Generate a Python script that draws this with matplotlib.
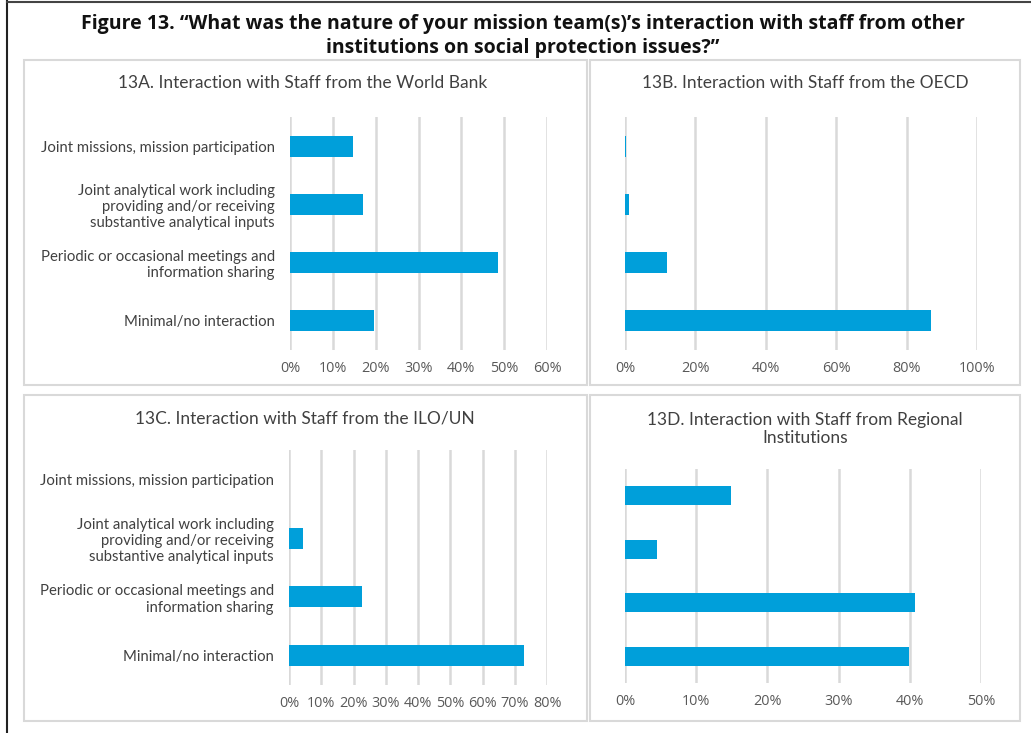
import matplotlib.pyplot as plt
from matplotlib.patches import Rectangle
from matplotlib.lines import Line2D
from matplotlib.ticker import PercentFormatter

plt.rcParams['font.family'] = ['Lato', 'DejaVu Sans']

# Data (shares of respondents)
categories = [
    "Joint missions, mission participation",
    "Joint analytical work including\nproviding and/or receiving\nsubstantive analytical inputs",
    "Periodic or occasional meetings and\ninformation sharing",
    "Minimal/no interaction",
]
world_bank = [0.148, 0.171, 0.486, 0.197]
oecd = [0.004, 0.010, 0.120, 0.870]
ilo_un = [0.0, 0.042, 0.227, 0.730]
regional = [0.149, 0.045, 0.408, 0.399]

titles = [
    "13A. Interaction with Staff from the World Bank",
    "13B. Interaction with Staff from the OECD",
    "13C. Interaction with Staff from the ILO/UN",
    "13D. Interaction with Staff from Regional\nInstitutions",
]

BAR = "#009FDA"
GRID = "#D9D9D9"
TXT = "#404040"

W, H = 1031, 733
fig = plt.figure(figsize=(W / 100, H / 100), dpi=100)


def px_axes(x0, y0, x1, y1):
    return fig.add_axes([x0 / W, 1 - y1 / H, (x1 - x0) / W, (y1 - y0) / H])


def frame(x0, y0, x1, y1, color=GRID, lw=1.5):
    fig.patches.append(Rectangle((x0 / W, 1 - y1 / H), (x1 - x0) / W, (y1 - y0) / H,
                                 transform=fig.transFigure, fill=False,
                                 edgecolor=color, lw=lw))


# outer frame (left and top only)
fig.lines.append(Line2D([7 / W, 7 / W], [0, 1 - 1 / H], transform=fig.transFigure, color="#222222", lw=1.5))
fig.lines.append(Line2D([7 / W, 1], [1 - 2 / H, 1 - 2 / H], transform=fig.transFigure, color="#444444", lw=1.5))

# panel boxes
frame(24, 60, 587, 385)
frame(590, 60, 1020, 385)
frame(24, 395, 587, 721)
frame(590, 395, 1020, 721)

fig.text(523 / W, 1 - 36 / H,
         "Figure 13. \u201cWhat was the nature of your mission team(s)\u2019s interaction with staff from other\ninstitutions on social protection issues?\u201d",
         ha="center", va="center", fontsize=14, fontweight="bold", color="#111111",
         linespacing=1.2, family=["Open Sans", "DejaVu Sans"])

panels = [
    (world_bank, (290, 117, 547, 350), 0.6, 0.1, True, (303, 83)),
    (oecd, (625, 117, 977, 350), 1.0, 0.2, False, (805, 83)),
    (ilo_un, (289, 450, 547, 685), 0.8, 0.1, True, (305, 418)),
    (regional, (625, 469, 981, 683), 0.5, 0.1, False, (805, 429)),
]

for (vals, box, xmax, step, show_labels, tpos), title in zip(panels, titles):
    ax = px_axes(*box)
    ax.barh(range(len(categories)), vals, height=0.36, color=BAR, zorder=3)
    ax.set_xlim(0, xmax)
    ax.set_ylim(3.5, -0.5)
    n = int(round(xmax / step))
    ax.set_xticks([i * step for i in range(n + 1)])
    ax.xaxis.set_major_formatter(PercentFormatter(1.0, decimals=0))
    ax.grid(axis="x", color=GRID, lw=1.8, zorder=0)
    for s in ax.spines.values():
        s.set_visible(False)
    ax.tick_params(axis="x", length=0, pad=8, labelsize=10.4, labelcolor="#595959")
    for lb in ax.get_xticklabels():
        lb.set_family(["Open Sans", "DejaVu Sans"])
    ax.tick_params(axis="y", length=0, pad=11, labelsize=10.7, labelcolor=TXT)
    ax.set_yticks(range(len(categories)))
    if show_labels:
        ax.set_yticklabels(categories, ha="right", linespacing=1.2)
    else:
        ax.set_yticklabels([])
    fig.text(tpos[0] / W, 1 - tpos[1] / H, title, ha="center", va="center",
             fontsize=12.5, color=TXT, linespacing=1.15)

fig.savefig("out.png", dpi=100, facecolor="white")
